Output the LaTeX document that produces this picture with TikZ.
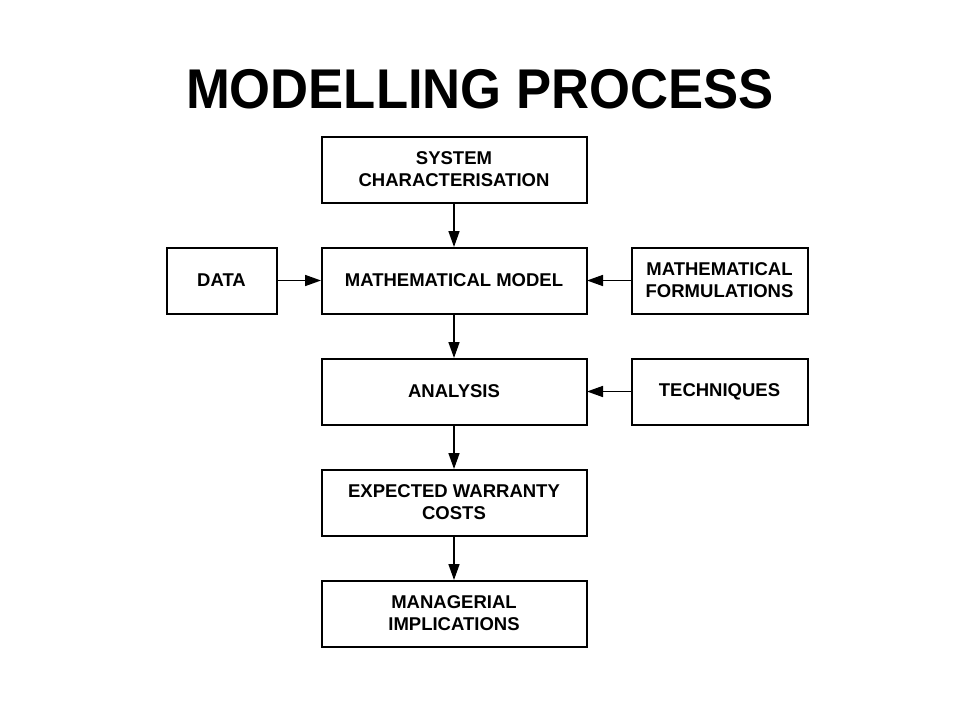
\documentclass[tikz,border=0pt]{standalone}
\usepackage{fontspec}
\setmainfont{Liberation Sans}
\newfontfamily\titlefont[FakeStretch=0.94]{Liberation Sans}
\usetikzlibrary{arrows.meta}
\begin{document}
\begin{tikzpicture}[x=1pt,y=-1pt,
  box/.style={draw, line width=2pt, minimum height=66pt, align=center,
    inner sep=0pt, font=\fontsize{18.5}{22}\selectfont\bfseries},
  mainbox/.style={box, minimum width=265pt},
  sidebox/.style={box},
  arr/.style={line width=1.6pt, shorten >=-0.5pt, -{Triangle[length=16pt,width=11pt]}}]
\useasboundingbox (0,0) rectangle (960,720);
\node[font=\titlefont\fontsize{56}{60}\selectfont\bfseries] (title) at (480,89) {MODELLING PROCESS};
\node[mainbox] (sys) at (454,169.5) {SYSTEM\\CHARACTERISATION};
\node[mainbox] (model) at (454,280.5) {MATHEMATICAL MODEL};
\node[mainbox] (ana) at (454,391.5) {ANALYSIS};
\node[mainbox] (exp) at (454,502.5) {EXPECTED WARRANTY\\COSTS};
\node[mainbox] (man) at (454,613.5) {MANAGERIAL\\IMPLICATIONS};
\node[sidebox, minimum width=110pt] (data) at (221.5,280.5) {DATA};
\node[sidebox, minimum width=176pt] (form) at (719.5,280.5) {MATHEMATICAL\\FORMULATIONS};
\node[sidebox, minimum width=176pt] (tech) at (719.5,391.5) {TECHNIQUES};
\draw[arr] (sys) -- (model);
\draw[arr] (model) -- (ana);
\draw[arr] (ana) -- (exp);
\draw[arr] (exp) -- (man);
\draw[arr] (data) -- (model);
\draw[arr] (form) -- (model);
\draw[arr] (tech) -- (ana);
\end{tikzpicture}
\end{document}
